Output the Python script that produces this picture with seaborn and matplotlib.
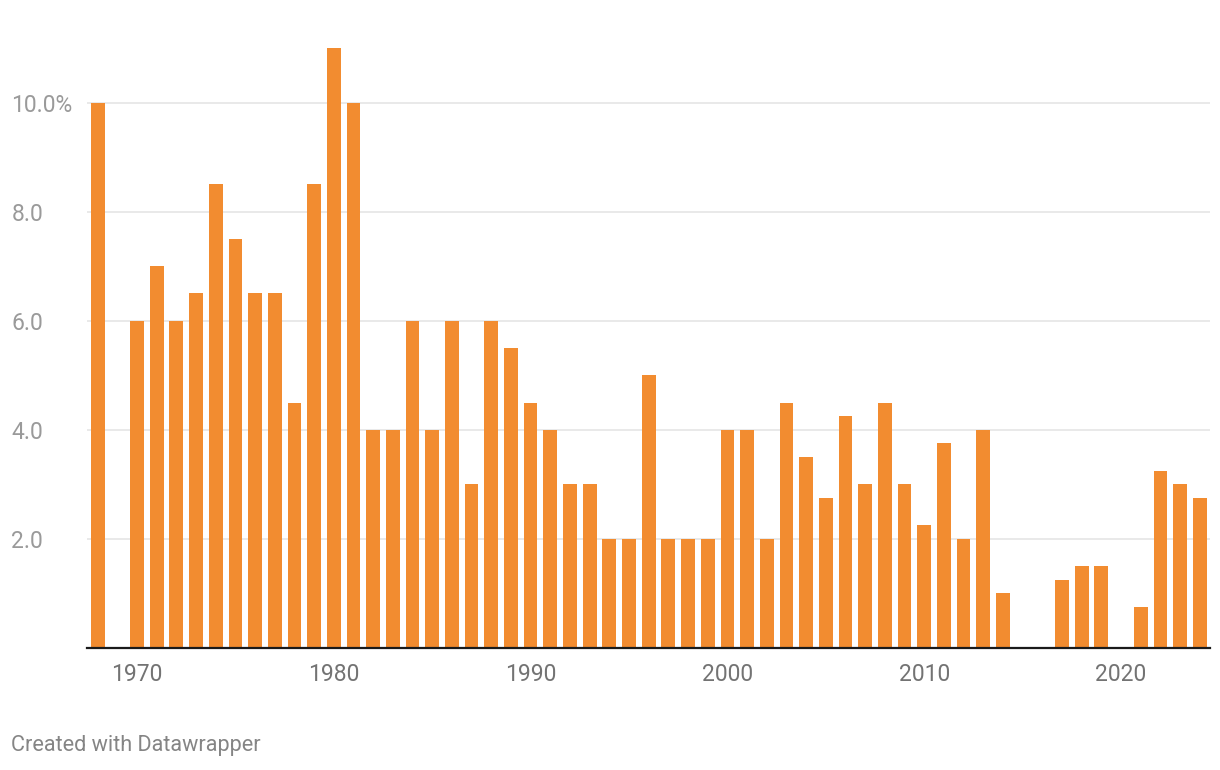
"""Bar chart of yearly rates, Datawrapper style."""

import matplotlib
matplotlib.use("Agg")
import matplotlib.pyplot as plt
import pandas as pd
import seaborn as sns

years = [1968, 1970, 1971, 1972, 1973, 1974, 1975, 1976, 1977, 1978, 1979,
         1980, 1981, 1982, 1983, 1984, 1985, 1986, 1987, 1988, 1989,
         1990, 1991, 1992, 1993, 1994, 1995, 1996, 1997, 1998, 1999,
         2000, 2001, 2002, 2003, 2004, 2005, 2006, 2007, 2008, 2009,
         2010, 2011, 2012, 2013, 2014, 2017, 2018, 2019,
         2021, 2022, 2023, 2024]
values = [10.0, 6.0, 7.0, 6.0, 6.5, 8.5, 7.5, 6.5, 6.5, 4.5, 8.5,
          11.0, 10.0, 4.0, 4.0, 6.0, 4.0, 6.0, 3.0, 6.0, 5.5,
          4.5, 4.0, 3.0, 3.0, 2.0, 2.0, 5.0, 2.0, 2.0, 2.0,
          4.0, 4.0, 2.0, 4.5, 3.5, 2.75, 4.25, 3.0, 4.5, 3.0,
          2.25, 3.75, 2.0, 4.0, 1.0, 1.25, 1.5, 1.5,
          0.75, 3.25, 3.0, 2.75]
y_ticks = [2, 4, 6, 8, 10]
y_tick_labels = ["2.0", "4.0", "6.0", "8.0", "10.0%"]
x_ticks = [1970, 1980, 1990, 2000, 2010, 2020]

df = pd.DataFrame({"year": years, "value": values})

sns.set_theme(style="white")
plt.rcParams["font.family"] = ["Roboto", "DejaVu Sans"]

W, H = 1220, 770
fig = plt.figure(figsize=(12.2, 7.7), dpi=100)
ax = fig.add_axes([87 / W, (H - 648) / H, (1210 - 87) / W, (648 - 48) / H])

ax.yaxis.grid(True, color="#e3e3e3", linewidth=1.1)
ax.set_axisbelow(True)

sns.barplot(data=df, x="year", y="value", native_scale=True, width=0.7,
            color="#f28c30", saturation=1, linewidth=0, ax=ax)

ax.set_xlim(1967.46, 2024.52)
ax.set_ylim(0, 11)

for side in ["left", "right", "top"]:
    ax.spines[side].set_visible(False)
ax.spines["bottom"].set_color("#1a1a1a")
ax.spines["bottom"].set_linewidth(1.6)

ax.set_yticks(y_ticks)
ax.set_yticklabels(y_tick_labels)
ax.tick_params(axis="y", length=0, pad=54.5, labelsize=16.5, labelcolor="#9a9a9a")
for lbl in ax.get_yticklabels():
    lbl.set_horizontalalignment("left")

ax.set_xticks(x_ticks)
ax.set_xticklabels([str(x) for x in x_ticks])
ax.tick_params(axis="x", length=0, pad=11, labelsize=16.5, labelcolor="#737373")

ax.set_xlabel("")
ax.set_ylabel("")

fig.text(11 / W, 1 - 746 / H, "Created with Datawrapper", ha="left", va="center",
         fontsize=15.6, color="#858585")

fig.savefig("out.png", dpi=100)
plt.close(fig)
